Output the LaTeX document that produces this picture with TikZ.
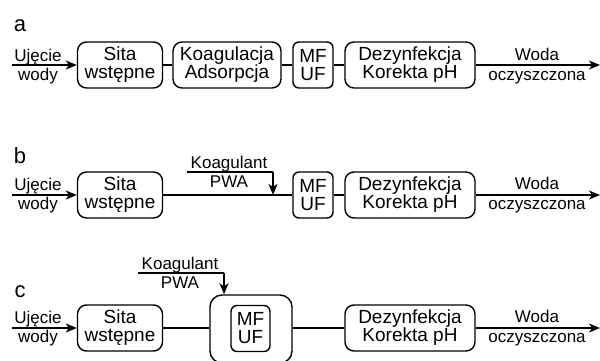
\documentclass[tikz,border=0pt]{standalone}
\usepackage{fontspec}
\setmainfont{Liberation Sans}
\usetikzlibrary{arrows.meta}
\begin{document}
\begin{tikzpicture}[x=1pt,y=-1pt,
 box/.style={draw,rounded corners=9pt,line width=1.4pt,minimum height=46pt,inner sep=0pt,align=center,font=\fontsize{19}{18}\selectfont},
 lbl/.style={inner sep=0pt,font=\fontsize{17}{17}\selectfont,anchor=base},
 tag/.style={inner sep=0pt,font=\fontsize{22}{22}\selectfont,anchor=base},
 ln/.style={line width=1.4pt},
 arr/.style={line width=1.4pt,-{Stealth[length=11pt,width=9pt,inset=3pt]}}]
\clip (0,0) rectangle (600,360);
% ---------- row a ----------
\node[tag] (ta) at (20,31) {a};
\node[box,minimum width=85pt] (sa) at (120,65) {Sita\\wstępne};
\node[box,minimum width=108pt] (ka) at (227,65) {Koagulacja\\Adsorpcja};
\node[box,minimum width=40pt,rounded corners=6pt] (ma) at (313,65) {MF\\UF};
\node[box,minimum width=130pt] (da) at (410,65) {Dezynfekcja\\Korekta pH};
\coordinate (ina) at (12,65);
\coordinate (outa) at (600,65);
\draw[arr] (ina) -- (sa);
\draw[ln] (sa) -- (ka);
\draw[ln] (ka) -- (ma);
\draw[ln] (ma) -- (da);
\draw[arr] (da) -- (outa);
\node[lbl] (ua) at (38,61) {Ujęcie};
\node[lbl] (wa) at (38,80) {wody};
\node[lbl] (woa) at (537,60) {Woda};
\node[lbl] (oa) at (537,80) {oczyszczona};
% ---------- row b ----------
\node[tag] (tb) at (20,163) {b};
\node[box,minimum width=85pt] (sb) at (120,195) {Sita\\wstępne};
\node[box,minimum width=40pt,rounded corners=6pt] (mb) at (313,195) {MF\\UF};
\node[box,minimum width=130pt] (db) at (410,195) {Dezynfekcja\\Korekta pH};
\coordinate (inb) at (12,195);
\coordinate (outb) at (600,195);
\draw[arr] (inb) -- (sb);
\draw[ln] (sb) -- (mb);
\draw[ln] (mb) -- (db);
\draw[arr] (db) -- (outb);
\node[lbl] (ub) at (38,190.5) {Ujęcie};
\node[lbl] (wb) at (38,209.5) {wody};
\node[lbl] (wob) at (537,189.5) {Woda};
\node[lbl] (ob) at (537,209.5) {oczyszczona};
\coordinate (kb0) at (187,172);
\coordinate (kb1) at (273,172);
\coordinate (kb2) at (273,195);
\draw[ln] (kb0) -- (kb1);
\draw[arr] (kb1) -- (kb2);
\node[lbl] (kgb) at (229,168) {Koagulant};
\node[lbl] (pwb) at (229,187) {PWA};
% ---------- row c ----------
\node[tag] (tc) at (20,297) {c};
\node[box,minimum width=85pt] (sc) at (120,328) {Sita\\wstępne};
\node[draw,rounded corners=12pt,line width=1.4pt,minimum width=82pt,minimum height=68pt,inner sep=0pt] (big) at (251,329) {};
\node[box,minimum width=39pt,rounded corners=6pt] (mc) at (250.5,328.5) {MF\\UF};
\node[box,minimum width=130pt] (dc) at (410,328) {Dezynfekcja\\Korekta pH};
\coordinate (inc) at (12,328);
\coordinate (outc) at (600,328);
\draw[arr] (inc) -- (sc);
\draw[ln] (sc) -- (big.west |- sc);
\draw[ln] (big.east |- dc) -- (dc);
\draw[arr] (dc) -- (outc);
\node[lbl] (uc) at (38,323.5) {Ujęcie};
\node[lbl] (wc) at (38,342.5) {wody};
\node[lbl] (woc) at (537,322.5) {Woda};
\node[lbl] (oc) at (537,342.5) {oczyszczona};
\coordinate (kc0) at (138,273);
\coordinate (kc1) at (224,273);
\draw[ln] (kc0) -- (kc1);
\draw[arr] (kc1) -- (big.north -| kc1);
\node[lbl] (kgc) at (180,269) {Koagulant};
\node[lbl] (pwc) at (180,288) {PWA};
\end{tikzpicture}
\end{document}
